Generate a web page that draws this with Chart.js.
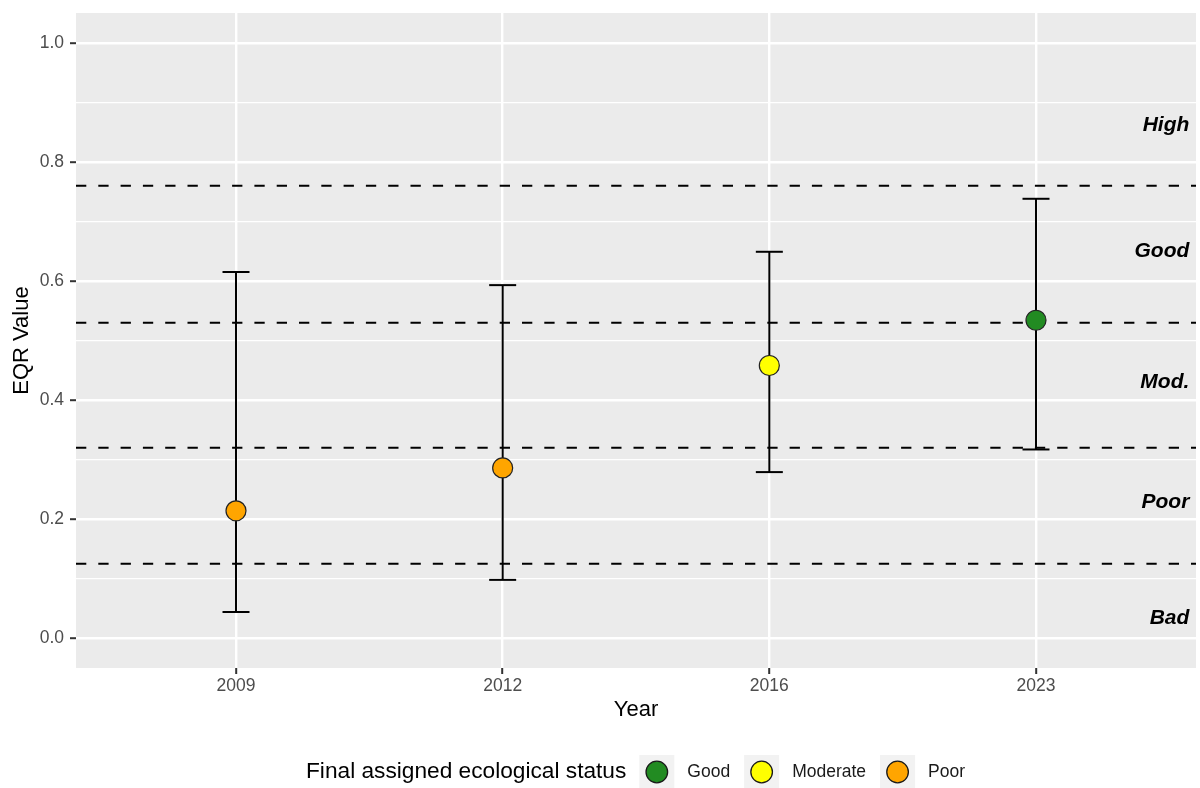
<!DOCTYPE html>
<html>
<head>
<meta charset="utf-8">
<script src="https://cdn.jsdelivr.net/npm/chart.js@4/dist/chart.umd.min.js"></script>
<style>
  html, body { margin: 0; padding: 0; background: #ffffff; }
  #wrap { width: 1200px; height: 788px; }
</style>
</head>
<body>
<div id="wrap"><canvas id="c" width="1200" height="788"></canvas></div>
<script>
// ---- Data ----
const years = ['2009', '2012', '2016', '2023'];
const eqrMean = [0.214, 0.286, 0.458, 0.534];
const eqrLow = [0.044, 0.098, 0.279, 0.317];
const eqrHigh = [0.615, 0.593, 0.649, 0.738];
const finalStatus = ['Poor', 'Poor', 'Moderate', 'Good'];

const thresholds = [0.76, 0.53, 0.32, 0.125];
const classLabels = ['High', 'Good', 'Mod.', 'Poor', 'Bad'];
const classLabelY = [0.861, 0.650, 0.430, 0.228, 0.033];

const yTicks = [0, 0.1, 0.2, 0.3, 0.4, 0.5, 0.6, 0.7, 0.8, 0.9, 1.0];
const yTickLabels = ['0.0', '', '0.2', '', '0.4', '', '0.6', '', '0.8', '', '1.0'];

const legendStatuses = ['Good', 'Moderate', 'Poor'];
const statusColors = { Good: '#228B22', Moderate: '#FFFF00', Poor: '#FFA500' };

const FONT = "'Liberation Sans', Arial, Helvetica, sans-serif";

// ---- Derived datasets ----
const pointData = years.map((y, i) => ({ x: i + 1, y: eqrMean[i] }));
const errData = [];
years.forEach((y, i) => {
  errData.push({ x: i + 1, y: eqrLow[i] });
  errData.push({ x: i + 1, y: eqrHigh[i] });
  errData.push({ x: i + 1, y: null });
});
const xMin = 0.4, xMax = 4.6;
const hlineSets = thresholds.map(t => ({
  type: 'line',
  data: [{ x: xMin, y: t }, { x: xMax, y: t }],
  borderColor: '#000000',
  borderWidth: 2,
  borderDash: [10.3, 12],
  pointRadius: 0,
  order: 3,
  clip: false
}));

// ---- Plugins ----
const panelBg = {
  id: 'panelBg',
  beforeDraw(chart) {
    const { ctx, chartArea: a } = chart;
    ctx.save();
    ctx.fillStyle = '#EBEBEB';
    ctx.fillRect(a.left, a.top, a.right - a.left, a.bottom - a.top);
    ctx.restore();
  }
};

const classText = {
  id: 'classText',
  afterDatasetsDraw(chart) {
    const { ctx } = chart;
    const xs = chart.scales.x, ys = chart.scales.y;
    ctx.save();
    ctx.font = `italic bold 21px ${FONT}`;
    ctx.fillStyle = '#000000';
    ctx.textAlign = 'right';
    ctx.textBaseline = 'middle';
    classLabels.forEach((t, i) => {
      ctx.fillText(t, xs.getPixelForValue(4.575), ys.getPixelForValue(classLabelY[i]));
    });
    ctx.restore();
  }
};

const legendPlugin = {
  id: 'ggLegend',
  afterDraw(chart) {
    const { ctx } = chart;
    const cy = 772;
    let x = 306;
    ctx.save();
    ctx.textBaseline = 'middle';
    ctx.textAlign = 'left';
    ctx.font = `22.7px ${FONT}`;
    ctx.fillStyle = '#000000';
    const title = 'Final assigned ecological status';
    ctx.fillText(title, x, cy);
    x += ctx.measureText(title).width + 13;
    legendStatuses.forEach(s => {
      ctx.fillStyle = '#F2F2F2';
      ctx.fillRect(x, cy - 17, 35, 34);
      ctx.beginPath();
      ctx.arc(x + 17.5, cy, 10.8, 0, Math.PI * 2);
      ctx.fillStyle = statusColors[s];
      ctx.fill();
      ctx.lineWidth = 1.3;
      ctx.strokeStyle = '#1a1a1a';
      ctx.stroke();
      x += 35 + 13;
      ctx.font = `17.5px ${FONT}`;
      ctx.fillStyle = '#1a1a1a';
      ctx.fillText(s, x, cy);
      x += ctx.measureText(s).width + 14;
    });
    ctx.restore();
  }
};

function zeroPad(scale) {
  scale.paddingTop = 0;
  scale.paddingBottom = 0;
  scale.paddingLeft = 0;
  scale.paddingRight = 0;
}

// ---- Chart ----
new Chart(document.getElementById('c'), {
  type: 'scatter',
  data: {
    datasets: [
      {
        type: 'scatter',
        data: pointData,
        pointRadius: 10,
        pointHoverRadius: 10,
        pointBackgroundColor: finalStatus.map(s => statusColors[s]),
        pointBorderColor: '#222222',
        pointBorderWidth: 1.2,
        order: 1
      },
      {
        type: 'line',
        data: errData,
        borderColor: '#000000',
        borderWidth: 2,
        spanGaps: false,
        pointStyle: 'line',
        pointRadius: 13.5,
        pointHoverRadius: 13.5,
        pointBorderWidth: 2,
        pointBorderColor: '#000000',
        order: 2
      },
      ...hlineSets
    ]
  },
  options: {
    responsive: false,
    devicePixelRatio: 1,
    animation: false,
    events: [],
    layout: { autoPadding: false, padding: { left: 0, top: 13, right: 4, bottom: 60 } },
    plugins: {
      legend: { display: false },
      tooltip: { enabled: false }
    },
    scales: {
      x: {
        type: 'linear',
        min: xMin,
        max: xMax,
        afterBuildTicks(scale) { scale.ticks = years.map((y, i) => ({ value: i + 1 })); },
        afterFit(scale) { scale.height = 60; zeroPad(scale); },
        ticks: {
          callback: (v) => years[Math.round(v) - 1],
          font: { family: FONT, size: 17.5 },
          color: '#4D4D4D',
          padding: 2,
          maxRotation: 0,
          autoSkip: false
        },
        grid: {
          color: '#FFFFFF',
          lineWidth: 2.4,
          tickLength: 6,
          tickColor: '#333333',
          tickWidth: 2
        },
        border: { display: false },
        title: {
          display: true,
          text: 'Year',
          font: { family: FONT, size: 22 },
          color: '#000000',
          padding: { top: 0, bottom: 5 }
        }
      },
      y: {
        type: 'linear',
        min: -0.05,
        max: 1.05,
        afterBuildTicks(scale) { scale.ticks = yTicks.map(v => ({ value: v })); },
        afterFit(scale) { scale.width = 76; zeroPad(scale); },
        ticks: {
          callback: (v, i) => yTickLabels[i],
          font: { family: FONT, size: 17.5 },
          color: '#4D4D4D',
          padding: 6,
          autoSkip: false
        },
        grid: {
          color: '#FFFFFF',
          lineWidth: (c) => (c.index % 2 === 0 ? 2.4 : 1.2),
          tickLength: 6,
          tickColor: (c) => (c.index % 2 === 0 ? '#333333' : 'rgba(0,0,0,0)'),
          tickWidth: 2
        },
        border: { display: false },
        title: {
          display: true,
          text: 'EQR Value',
          font: { family: FONT, size: 22 },
          color: '#000000',
          padding: { top: 9, bottom: 0 }
        }
      }
    }
  },
  plugins: [panelBg, classText, legendPlugin]
});
</script>
</body>
</html>
